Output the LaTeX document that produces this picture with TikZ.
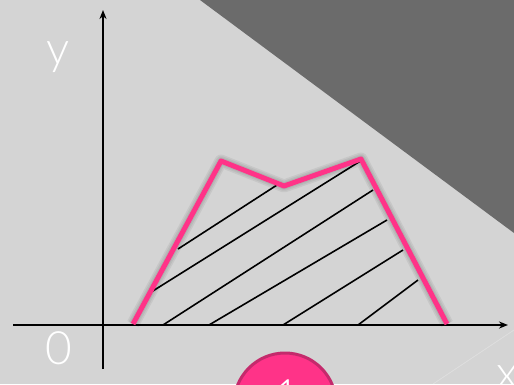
\documentclass[tikz,border=0pt]{standalone}
\usepackage{fontspec}
\setmainfont{Lato}[UprightFont=* Light]
\usetikzlibrary{arrows.meta}
\definecolor{bg}{HTML}{D4D4D4}
\definecolor{dark}{HTML}{6B6B6B}
\definecolor{pinkl}{HTML}{FF3388}
\definecolor{pinkd}{HTML}{C42A6C}
\tikzset{
  axis/.style={line width=2pt, black, -{Stealth[length=9pt,width=7pt]}},
  hatch/.style={line width=1.6pt, black},
  outline/.style={line width=5pt, pinkl, line join=round},
  shadowline/.style={line width=9pt, black, opacity=0.06, line join=round},
  lbl/.style={text=white, font=\fontsize{46}{46}\selectfont, inner sep=0pt}
}
\begin{document}
\begin{tikzpicture}[x=1pt,y=-1pt]
\useasboundingbox (0,0) rectangle (514,384);
\fill[bg] (0,0) rectangle (514,384);
\fill[dark] (200,0) -- (514,0) -- (514,233) -- cycle;
\draw[white, opacity=0.25, line width=0.8pt] (433,384) -- (514,330);
% coordinates
\coordinate (p1) at (133,324);
\coordinate (p2) at (221,161);
\coordinate (p3) at (284,186);
\coordinate (p4) at (361,159);
\coordinate (p5) at (447,324);
% hatch
\coordinate (h1a) at (178,249); \coordinate (h1b) at (277,185);
\coordinate (h2a) at (148,294); \coordinate (h2b) at (362,160);
\coordinate (h3a) at (163,325); \coordinate (h3b) at (373,190);
\coordinate (h4a) at (209,325); \coordinate (h4b) at (387,220);
\coordinate (h5a) at (283,325); \coordinate (h5b) at (403,250);
\coordinate (h6a) at (358,325); \coordinate (h6b) at (418,280);
\foreach \i in {1,...,6} \draw[hatch] (h\i a) -- (h\i b);
% axes
\coordinate (xs) at (13,325); \coordinate (xe) at (508,325);
\coordinate (ys) at (103,369); \coordinate (ye) at (103,10);
\draw[axis] (xs) -- (xe);
\draw[axis] (ys) -- (ye);
% shadow and outline
\foreach \s in {0,1,2} \draw[shadowline, line width={7pt+3*\s pt}, shift={(2,4)}] (p1) -- (p2) -- (p3) -- (p4) -- (p5);
\draw[outline] (p1) -- (p2) -- (p3) -- (p4) -- (p5);
% labels
\node[lbl, anchor=base] (ylbl) at (58,64) {y};
\node[lbl, anchor=base] (olbl) at (59,364) {0};
\node[lbl, anchor=base west] (xlbl) at (496,388) {x};
% circle
\node[circle, fill=pinkl, draw=pinkd, line width=3pt, minimum size=102pt, inner sep=0pt] (c1) at (285,404) {};
\node[lbl, anchor=base] (one) at (287,412) {1};
\end{tikzpicture}
\end{document}
